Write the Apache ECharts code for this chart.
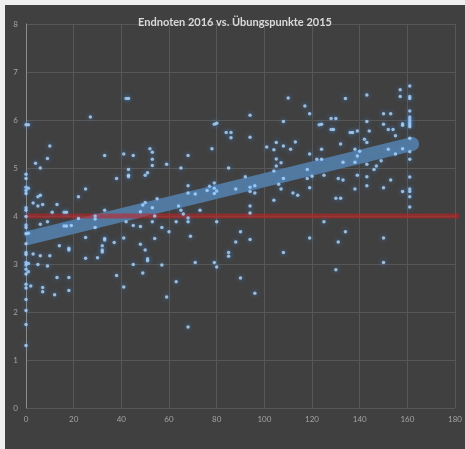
<!DOCTYPE html>
<html>
<head>
<meta charset="utf-8">
<script src="https://cdn.jsdelivr.net/npm/echarts@6/dist/echarts.min.js"></script>
<style>
html,body{margin:0;padding:0;background:#efefef;width:465px;height:449px;overflow:hidden;}
#c{position:absolute;left:5px;top:5px;width:460px;height:444px;}
</style>
</head>
<body>
<div id="c"></div>
<script>
var titleText = 'Endnoten 2016 vs. Übungspunkte 2015';
var pointX = [
0,1,42,43,27,10,4,9,6,33,41,45,52,53,53,53,59,43,43,43,38,50,51,0,0,0,1,0,0,25,22,5,6,3,5,7,13,0,0,11,16,17,33,55,50,49,53,48,
0,0,0,1,0,6,9,22,29,29,29,16,17,19,42,45,48,53,57,54,0,0,0,3,6,10,14,18,18,25,33,33,32,32,32,30,25,37,41,48,50,51,51,54,
0,1,0,5,9,0,1,0,45,57,49,38,13,18,0,2,0,7,7,18,12,41,59,0,0,0,0,
65,68,78,79,80,84,86,86,94,94,85,110,117,119,108,101,104,105,108,111,113,105,107,105,104,119,118,120,118,119,108,106,107,112,114,104,92,
68,68,71,77,76,79,79,80,79,88,94,94,96,96,94,64,65,66,73,94,
68,68,63,60,80,69,90,88,94,85,85,71,79,80,90,63,96,68,108,119,
134,143,157,157,161,161,161,161,161,161,161,161,161,161,161,161,161,161,161,161,161,161,158,158,158,158,150,153,150,152,154,155,143,144,142,143,
139,136,137,128,130,128,129,123,124,132,124,138,140,152,122,124,133,138,139,143,149,155,147,146,125,131,133,139,143,143,153,138,150,130,132,
125,134,131,150,150,130
];
var pointY = [
5.9,5.9,6.45,6.45,6.06,5.46,5.1,5.2,5.0,5.26,5.29,5.26,5.4,5.33,5.18,5.05,5.08,4.97,4.82,4.85,4.78,4.85,4.9,4.87,4.78,4.6,4.58,4.53,4.47,4.56,4.4,4.4,4.43,4.27,4.21,4.24,4.24,4.17,4.12,4.08,4.08,4.08,4.12,4.36,4.28,4.23,4.17,4.09,
3.99,3.81,3.76,3.64,3.63,3.83,3.88,3.95,4.0,3.94,3.76,3.79,3.79,3.8,3.88,3.8,3.78,3.88,3.76,4.0,3.42,3.24,3.2,3.21,3.17,3.17,3.38,3.33,3.29,3.55,3.53,3.5,3.38,3.29,3.25,3.13,3.12,3.45,3.54,3.41,3.29,3.11,3.07,3.53,
3.03,3.01,2.98,2.99,2.96,2.89,2.84,2.79,2.99,2.98,2.81,2.76,2.72,2.72,2.58,2.54,2.5,2.51,2.42,2.45,2.36,2.52,2.31,2.26,2.03,1.74,1.3,
5.0,5.26,5.4,5.91,5.93,5.74,5.74,5.63,6.1,5.64,5.0,6.46,6.29,6.13,5.97,5.44,5.38,5.53,5.46,5.39,5.54,5.19,5.11,5.04,4.94,5.29,4.97,4.83,4.78,4.59,4.78,4.66,4.56,4.48,4.43,4.33,4.82,
4.63,4.48,4.46,4.62,4.53,4.69,4.58,4.52,4.47,4.56,4.6,4.51,4.63,4.48,4.21,4.21,4.12,4.04,4.12,4.06,
3.96,3.88,3.88,3.67,3.88,3.58,3.67,3.46,3.51,3.24,3.16,3.03,3.03,2.94,2.71,2.63,2.39,1.69,3.24,3.54,
6.45,6.52,6.63,6.49,6.71,6.49,6.45,6.19,6.06,6.02,5.98,5.94,5.9,5.86,5.62,5.34,5.18,4.81,4.56,4.51,4.4,4.19,5.92,5.89,5.4,4.51,6.13,6.13,5.91,5.8,5.8,5.67,5.97,5.77,5.6,5.53,
5.77,5.74,5.74,6.03,6.03,5.8,5.8,5.9,5.91,5.5,5.39,5.39,5.35,5.39,5.18,5.18,5.12,5.12,5.25,5.08,5.15,5.29,5.04,4.97,4.85,4.78,4.75,4.85,4.82,4.63,4.75,4.56,4.59,4.37,4.37,
3.88,3.67,3.46,3.54,3.03,2.88
];
var trendX = [0, 162];
var trendY = [3.53, 5.5];
var thresholdX = [0, 186];
var thresholdY = [4, 4];

var pts = pointX.map(function(x, i){ return [x, pointY[i]]; });
var trend = trendX.map(function(x, i){
  return i === 0 ? {value:[x, trendY[i]], symbol:'none'} : {value:[x, trendY[i]]};
});
var thr = thresholdX.map(function(x, i){ return [x, thresholdY[i]]; });

var bandColor = '#52799f';
var chart = echarts.init(document.getElementById('c'));
var lbl = {color:'#a3a3a3', fontSize:8, fontFamily:'Lato'};
chart.setOption({
  animation:false,
  backgroundColor:'#404040',
  title:{text:titleText, left:'center', top:7,
    textStyle:{color:'#d9d9d9', fontSize:11, fontWeight:'bold', fontFamily:'Lato'}},
  grid:{left:21, right:9, top:19, bottom:41, containLabel:false},
  xAxis:{type:'value', min:0, max:180, interval:20,
    axisLine:{show:false}, axisTick:{show:false},
    axisLabel:Object.assign({margin:7}, lbl),
    splitLine:{show:true, lineStyle:{color:'#575757', width:1}}},
  yAxis:{type:'value', min:0, max:8, interval:1,
    axisLine:{show:true, lineStyle:{color:'#8c8c8c', width:1}}, axisTick:{show:false},
    axisLabel:Object.assign({margin:8}, lbl),
    splitLine:{show:true, lineStyle:{color:'#575757', width:1}}},
  series:[
    {type:'line', data:trend, symbol:'circle', symbolSize:14, showSymbol:true, z:2,
      itemStyle:{color:bandColor, borderWidth:0},
      lineStyle:{width:14, color:bandColor, cap:'butt'}},
    {type:'line', data:thr, symbol:'none', z:3, clip:false,
      lineStyle:{width:5, color:'rgba(205,30,30,0.55)'}},
    {type:'scatter', data:pts, symbolSize:3.5, z:4,
      itemStyle:{color:'#b0daff', shadowBlur:5, shadowColor:'rgba(70,150,240,0.95)'}}
  ]
});
</script>
</body>
</html>
